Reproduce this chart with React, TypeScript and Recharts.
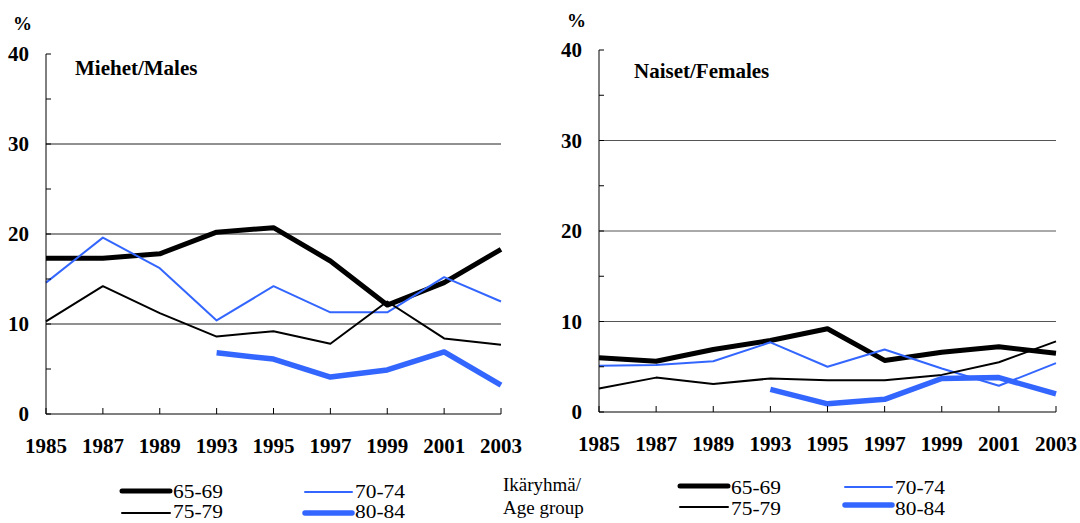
import React from 'react';
import { LineChart, Line, XAxis, YAxis, ReferenceLine } from 'recharts';

const years = ['1985', '1987', '1989', '1993', '1995', '1997', '1999', '2001', '2003'];
const yTicks = [0, 5, 10, 15, 20, 25, 30, 35, 40];
const gridValues = [10, 20, 30];

const male6569 = [17.3, 17.3, 17.8, 20.2, 20.7, 17.0, 12.1, 14.6, 18.3];
const male7074 = [14.6, 19.6, 16.2, 10.4, 14.2, 11.3, 11.3, 15.2, 12.5];
const male7579 = [10.3, 14.2, 11.2, 8.6, 9.2, 7.8, 12.5, 8.4, 7.7];
const male8084 = [null, null, null, 6.8, 6.1, 4.1, 4.9, 6.9, 3.2];

const female6569 = [6.0, 5.6, 6.9, 7.9, 9.2, 5.7, 6.6, 7.2, 6.5];
const female7074 = [5.1, 5.2, 5.6, 7.7, 5.0, 6.9, 4.8, 2.9, 5.4];
const female7579 = [2.6, 3.8, 3.1, 3.7, 3.5, 3.5, 4.1, 5.5, 7.8];
const female8084 = [null, null, null, 2.5, 0.9, 1.4, 3.7, 3.8, 2.0];

const seriesKeys = ['a6569', 'a7074', 'a7579', 'a8084'];
const seriesNames = ['65-69', '70-74', '75-79', '80-84'];

const BLUE = '#3366ff';
const seriesStyle: Record<string, { color: string; width: number }> = {
  a6569: { color: '#000000', width: 5 },
  a7074: { color: BLUE, width: 2 },
  a7579: { color: '#000000', width: 2 },
  a8084: { color: BLUE, width: 5.5 },
};

const FONT = "'Liberation Serif', 'Times New Roman', serif";

const buildRows = (s: (number | null)[][]) =>
  years.map((y, i) => ({
    year: y,
    a6569: s[0][i],
    a7074: s[1][i],
    a7579: s[2][i],
    a8084: s[3][i],
  }));

const maleData = buildRows([male6569, male7074, male7579, male8084]);
const femaleData = buildRows([female6569, female7074, female7579, female8084]);

const YTick = (props: any) => {
  const { x, y, payload } = props;
  const v = payload.value;
  return (
    <g>
      <line x1={x} x2={x + 5} y1={y} y2={y} stroke="#000" strokeWidth={1} />
      {v % 10 === 0 && (
        <text x={x - 17} y={y + 7} textAnchor="end" fontFamily={FONT} fontWeight="bold" fontSize={21} fill="#000">
          {v}
        </text>
      )}
    </g>
  );
};

const XTick = (props: any) => {
  const { x, y, payload } = props;
  return (
    <g>
      <line x1={x} x2={x} y1={y} y2={y - 6} stroke="#000" strokeWidth={1} />
      <text x={x} y={y + 39} textAnchor="middle" fontFamily={FONT} fontWeight="bold" fontSize={21} fill="#000">
        {payload.value}
      </text>
    </g>
  );
};

const Panel = ({ data, margin, yWidth, gridColor }: any) => (
  <LineChart width={540} height={470} data={data} margin={margin}>
    <XAxis
      dataKey="year"
      height={40}
      tick={<XTick />}
      tickLine={false}
      tickSize={0}
      tickMargin={0}
      axisLine={{ stroke: '#000', strokeWidth: 1 }}
      interval={0}
    />
    <YAxis
      width={yWidth}
      domain={[0, 40]}
      ticks={yTicks}
      interval={0}
      tick={<YTick />}
      tickLine={false}
      tickSize={0}
      tickMargin={0}
      axisLine={{ stroke: '#000', strokeWidth: 1 }}
    />
    {gridValues.map((g) => (
      <ReferenceLine key={g} y={g} stroke={gridColor} strokeWidth={1} />
    ))}
    {seriesKeys.map((k) => (
      <Line
        key={k}
        type="linear"
        dataKey={k}
        stroke={seriesStyle[k].color}
        strokeWidth={seriesStyle[k].width}
        dot={false}
        activeDot={false}
        connectNulls={false}
        isAnimationActive={false}
        strokeLinejoin="round"
      />
    ))}
  </LineChart>
);

const legendLeft = [
  { key: 'a6569', x1: 122, x2: 170, y: 491, tx: 173, ty: 498 },
  { key: 'a7579', x1: 122, x2: 170, y: 513, tx: 173, ty: 518 },
  { key: 'a7074', x1: 305, x2: 352, y: 492, tx: 355, ty: 498 },
  { key: 'a8084', x1: 305, x2: 352, y: 513, tx: 355, ty: 518 },
];
const legendRight = [
  { key: 'a6569', x1: 680, x2: 728, y: 486, tx: 731, ty: 494 },
  { key: 'a7579', x1: 680, x2: 728, y: 507, tx: 731, ty: 515 },
  { key: 'a7074', x1: 845, x2: 892, y: 487, tx: 895, ty: 494 },
  { key: 'a8084', x1: 845, x2: 892, y: 505, tx: 895, ty: 515 },
];

export default function App() {
  const legendItems = [...legendLeft, ...legendRight];
  return (
    <div style={{ position: 'absolute', left: 0, top: 0, width: 1080, height: 523, background: '#fff', overflow: 'hidden' }}>
      <div style={{ position: 'absolute', left: 0, top: 0 }}>
        <Panel data={maleData} margin={{ top: 54, right: 39, left: 0, bottom: 16 }} yWidth={46} gridColor="#222" />
      </div>
      <div style={{ position: 'absolute', left: 540, top: 0 }}>
        <Panel data={femaleData} margin={{ top: 50, right: 24, left: 0, bottom: 18 }} yWidth={59} gridColor="#555" />
      </div>
      <svg width={1080} height={523} style={{ position: 'absolute', left: 0, top: 0, pointerEvents: 'none' }}>
        <text x={13} y={30} fontFamily={FONT} fontWeight="bold" fontSize={19} fill="#000">%</text>
        <text x={567} y={27} fontFamily={FONT} fontWeight="bold" fontSize={19} fill="#000">%</text>
        <text x={75} y={75} fontFamily={FONT} fontWeight="bold" fontSize={21} fill="#000">Miehet/Males</text>
        <text x={634} y={78} fontFamily={FONT} fontWeight="bold" fontSize={21} fill="#000">Naiset/Females</text>
        {legendItems.map((it, i) => {
          const st = seriesStyle[it.key];
          return (
            <g key={i}>
              <line x1={it.x1} x2={it.x2} y1={it.y} y2={it.y} stroke={st.color} strokeWidth={st.width} strokeLinecap="round" />
              <text x={it.tx} y={it.ty} fontFamily={FONT} fontSize={18} fill="#000" textLength={50} lengthAdjust="spacingAndGlyphs">
                {seriesNames[seriesKeys.indexOf(it.key)]}
              </text>
            </g>
          );
        })}
        <text x={503} y={491} fontFamily={FONT} fontSize={19} fill="#000">Ikäryhmä/</text>
        <text x={503} y={514} fontFamily={FONT} fontSize={19} fill="#000">Age group</text>
      </svg>
    </div>
  );
}
